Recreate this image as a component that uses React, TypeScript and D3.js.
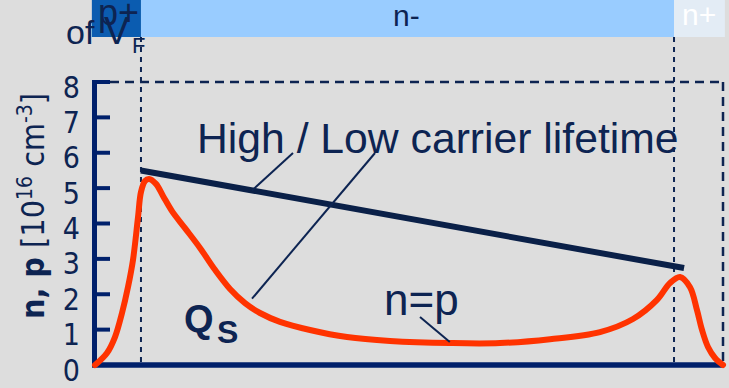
import React from "react";
import * as d3 from "d3";

// ---- data ----
const yTicks = [0, 1, 2, 3, 4, 5, 6, 7, 8];
// position across the device (0..100 %) and carrier density n = p [1e16 cm^-3]
const curvePos = [0, 1.91, 3.18, 4.3, 5.25, 6.05, 6.85, 7.32, 7.96, 8.6, 9.71, 10.83, 12.26, 14.33, 16.72, 19.11, 21.5, 23.89, 26.27, 29.46, 34.24, 40.13, 46.97, 56.53, 64.49, 72.45, 80.41, 85.67, 89.49, 91.56, 93.15, 94.75, 95.86, 96.66, 97.61, 98.73, 100];
const curveVal = [0, 0.34, 0.79, 1.47, 2.2, 2.97, 4.18, 4.89, 5.2, 5.26, 5.12, 4.78, 4.35, 3.87, 3.31, 2.69, 2.15, 1.75, 1.47, 1.22, 0.99, 0.79, 0.68, 0.62, 0.62, 0.73, 0.93, 1.3, 1.84, 2.32, 2.49, 2.2, 1.55, 0.99, 0.51, 0.2, 0];
const lifetimePos = [7.3, 93.8];
const lifetimeVal = [5.5, 2.74];
const regionNames = ["p+", "n-", "n+"];
const regionBounds = [-0.5, 7.32, 92.2, 100.3];
const annotPos = [25, 25, 56.5];

const W = 729;
const H = 388;
const NAVY = "#0d2452";
const AXIS = "#00206b";

export default function App() {
  const x = d3.scaleLinear().domain([0, 100]).range([95, 723]);
  const y = d3.scaleLinear().domain([0, 8]).range([365, 82]);

  const pts: [number, number][] = curvePos.map((p, i) => [p, curveVal[i]]);
  const line = d3
    .line<[number, number]>()
    .x((d) => x(d[0]))
    .y((d) => y(d[1]))
    .curve(d3.curveCatmullRom.alpha(0.5));

  const lifeAt = (p: number) =>
    d3.scaleLinear().domain(lifetimePos).range(lifetimeVal)(p);
  const curveAt = (p: number) =>
    d3.scaleLinear().domain(curvePos).range(curveVal)(p);

  const bandColors = ["#0b5cb0", "#99ccff", "#e3ecf5"];
  const narrow = "'Liberation Sans Narrow', 'DejaVu Sans Condensed', 'Liberation Sans', sans-serif";
  const sans = "'Liberation Sans', Arial, sans-serif";

  return (
    <svg
      width={W}
      height={H}
      style={{ position: "absolute", left: 0, top: 0, background: "#dddddd" }}
    >
      <rect x={0} y={0} width={W} height={H} fill="#dddddd" />
      {/* region band */}
      {regionNames.map((r, i) => (
        <rect
          key={r}
          x={x(regionBounds[i])}
          y={0}
          width={x(regionBounds[i + 1]) - x(regionBounds[i])}
          height={37}
          fill={bandColors[i]}
        />
      ))}
      <text x={98} y={25} fontFamily={sans} fontSize={36} fill={NAVY}>
        {regionNames[0]}
      </text>
      <text x={393} y={26} fontFamily={sans} fontSize={30} fill={NAVY}>
        {regionNames[1]}
      </text>
      <text x={682} y={25} fontFamily={sans} fontSize={30} fill="#ffffff">
        {regionNames[2]}
      </text>
      <text x={66} y={44} fontFamily={sans} fontSize={34} fill={NAVY}>
        of
      </text>
      <text x={104} y={44} fontFamily={sans} fontSize={38} fill={NAVY}>
        V
      </text>
      <text x={132} y={53} fontFamily={sans} fontSize={22} fill={NAVY}>
        F
      </text>

      {/* dashed region boundaries */}
      {[regionBounds[1], regionBounds[2]].map((b, i) => (
        <line
          key={i}
          x1={x(b)}
          x2={x(b)}
          y1={37}
          y2={y(0)}
          stroke={NAVY}
          strokeWidth={2}
          strokeDasharray="5,5"
        />
      ))}
      {/* dashed frame */}
      <line x1={110} x2={x(100)} y1={y(8)} y2={y(8)} stroke={NAVY} strokeWidth={2.5} strokeDasharray="9,6" />
      <line x1={x(100)} x2={x(100)} y1={y(8)} y2={y(0)} stroke={NAVY} strokeWidth={2.5} strokeDasharray="9,6" />

      {/* y axis */}
      <line x1={94.5} x2={94.5} y1={y(8) - 2} y2={y(0) + 2} stroke={AXIS} strokeWidth={5} />
      {yTicks.map((t) => (
        <g key={t}>
          {t > 0 && (
            <line x1={94} x2={110} y1={y(t)} y2={y(t)} stroke={AXIS} strokeWidth={4} />
          )}
          <text
            x={80}
            y={y(t) + 5}
            textAnchor="end"
            dominantBaseline="central"
            fontFamily={narrow}
            fontSize={30}
            fill={NAVY}
          >
            {t}
          </text>
        </g>
      ))}
      {/* x axis */}
      <line x1={92} x2={x(100)} y1={y(0)} y2={y(0)} stroke={AXIS} strokeWidth={5.5} />

      {/* y axis label */}
      <text
        transform={`translate(44,206) rotate(-90)`}
        textAnchor="middle"
        fontFamily={narrow}
        fontSize={32}
        fill={NAVY}
      >
        <tspan fontWeight="bold">n, p</tspan>
        <tspan>{"  [10"}</tspan>
        <tspan dy={-12} fontSize={21}>16</tspan>
        <tspan dy={12}>{" cm"}</tspan>
        <tspan dy={-12} fontSize={21}>-3</tspan>
        <tspan dy={12}>]</tspan>
      </text>

      {/* lifetime line */}
      <line
        x1={x(lifetimePos[0])}
        y1={y(lifetimeVal[0])}
        x2={x(lifetimePos[1])}
        y2={y(lifetimeVal[1])}
        stroke="#0a2048"
        strokeWidth={6}
      />
      {/* carrier curve */}
      <path d={line(pts) || ""} fill="none" stroke="#ff3300" strokeWidth={6} strokeLinejoin="round" strokeLinecap="round" />

      {/* annotations */}
      <text x={197} y={153} fontFamily={sans} fontSize={42.7} fill={NAVY}>
        High / Low carrier lifetime
      </text>
      <line x1={293} y1={153} x2={x(annotPos[0])} y2={y(lifeAt(annotPos[0]))} stroke={NAVY} strokeWidth={2} />
      <line x1={375} y1={153} x2={x(annotPos[1])} y2={y(curveAt(annotPos[1])) - 9} stroke={NAVY} strokeWidth={2} />
      <text x={384} y={315} fontFamily={sans} fontSize={44} fill={NAVY}>
        n=p
      </text>
      <line x1={420} y1={317} x2={x(annotPos[2])} y2={y(curveAt(annotPos[2])) - 1} stroke={NAVY} strokeWidth={2} />
      <text x={184} y={332} fontFamily={sans} fontSize={38} fontWeight="bold" fill={NAVY}>
        Q
      </text>
      <text x={217} y={343} fontFamily={sans} fontSize={32} fontWeight="bold" fill={NAVY}>
        S
      </text>
    </svg>
  );
}
